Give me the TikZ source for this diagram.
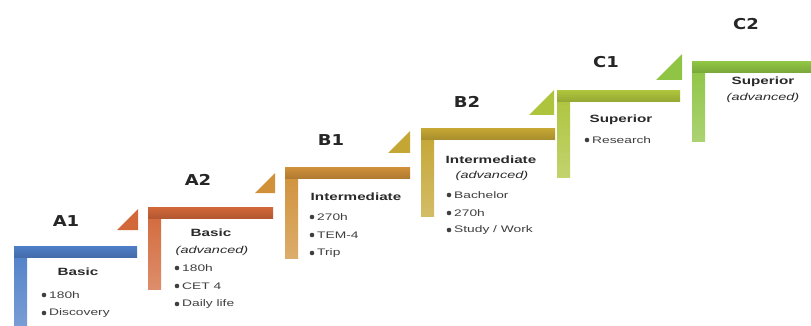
\documentclass[tikz,border=0pt]{standalone}
\usepackage{fontspec}
\newfontfamily\headfont[FakeStretch=1.45]{Liberation Sans}
\newfontfamily\itemfont[FakeStretch=1.45]{Liberation Sans}
\newfontfamily\lvlfont[FakeStretch=1.2]{DejaVu Sans}
\definecolor{cA1}{HTML}{4F7FC8}
\definecolor{cA2}{HTML}{D2683A}
\definecolor{cB1}{HTML}{D0913A}
\definecolor{cB2}{HTML}{C4A634}
\definecolor{cC1}{HTML}{ADC43C}
\definecolor{cC2}{HTML}{8FC444}
\definecolor{txt}{HTML}{2A2A2A}
\begin{document}
\begin{tikzpicture}[x=1pt,y=-1pt,
  lvl/.style={font=\lvlfont\bfseries\fontsize{15}{15}\selectfont, text=black!85, inner sep=0pt},
  head/.style={font=\headfont\bfseries\fontsize{10.5}{12}\selectfont, text=txt, inner sep=0pt},
  sub/.style={font=\headfont\itshape\fontsize{10}{12}\selectfont, text=txt, inner sep=0pt},
  item/.style={font=\itemfont\fontsize{9.5}{11}\selectfont, text=txt!90, inner sep=0pt, anchor=west},
  dot/.style={circle, fill=txt!90, inner sep=0pt, minimum size=4.6pt}]
\useasboundingbox (0,0) rectangle (811,326);
\fill[white] (0,0) rectangle (811,326);
% step shape: #1 color, L, T, R, B
\newcommand{\stepshape}[5]{%
  \shade[top color=#1, bottom color=#1!75!white] (#2,#3) rectangle (#2+13,#5);
  \shade[top color=#1, bottom color=#1!85!black] (#2,#3) rectangle (#4,#3+11);
}
\newcommand{\steptri}[4]{% color, right x, bottom y, size
  \fill[#1] (#2-#4,#3) -- (#2,#3) -- (#2,#3-#4) -- cycle;
}
\stepshape{cA1}{14}{246}{137}{330}
\stepshape{cA2}{148}{207}{273}{289}
\stepshape{cB1}{285}{167}{410}{258}
\stepshape{cB2}{421}{129}{555}{216}
\stepshape{cC1}{557}{91}{680}{177}
\stepshape{cC2}{692}{62}{815}{142}
\steptri{cA2}{138}{230}{21}
\steptri{cB1}{275}{193}{20}
\steptri{cB2}{410}{153}{22}
\steptri{cC1}{554}{115}{25}
\steptri{cC2}{682}{80}{26}

% level labels
\node[lvl] (lA1) at (66,221) {A1};
\node[lvl] (lA2) at (198,180) {A2};
\node[lvl] (lB1) at (331,140) {B1};
\node[lvl] (lB2) at (467,102) {B2};
\node[lvl] (lC1) at (606,62) {C1};
\node[lvl] (lC2) at (746,24) {C2};

% A1
\node[head] (hA1) at (78,272) {Basic};
\node[dot] (dA1a) at (44,295) {}; \node[item] (iA1a) at (49,295) {180h};
\node[dot] (dA1b) at (44,313) {}; \node[item] (iA1b) at (49,313) {Discovery};
% A2
\node[head] (hA2) at (211,233) {Basic};
\node[sub] (sA2) at (212,251) {(advanced)};
\node[dot] (dA2a) at (177,268) {}; \node[item] (iA2a) at (182,268) {180h};
\node[dot] (dA2b) at (177,286) {}; \node[item] (iA2b) at (182,286) {CET 4};
\node[dot] (dA2c) at (177,304) {}; \node[item] (iA2c) at (182,304) {Daily life};
% B1
\node[head] (hB1) at (356,197) {Intermediate};
\node[dot] (dB1a) at (312,217) {}; \node[item] (iB1a) at (317,217) {270h};
\node[dot] (dB1b) at (312,235) {}; \node[item] (iB1b) at (317,235) {TEM-4};
\node[dot] (dB1c) at (312,253) {}; \node[item] (iB1c) at (317,253) {Trip};
% B2
\node[head] (hB2) at (491,160) {Intermediate};
\node[sub] (sB2) at (492,176) {(advanced)};
\node[dot] (dB2a) at (449,195) {}; \node[item] (iB2a) at (454,195) {Bachelor};
\node[dot] (dB2b) at (449,213) {}; \node[item] (iB2b) at (454,213) {270h};
\node[dot] (dB2c) at (449,230) {}; \node[item] (iB2c) at (454,230) {Study / Work};
% C1
\node[head] (hC1) at (621,120) {Superior};
\node[dot] (dC1a) at (587,140) {}; \node[item] (iC1a) at (592,140) {Research};
% C2
\node[head] (hC2) at (763,82) {Superior};
\node[sub] (sC2) at (763,98) {(advanced)};
\end{tikzpicture}
\end{document}
